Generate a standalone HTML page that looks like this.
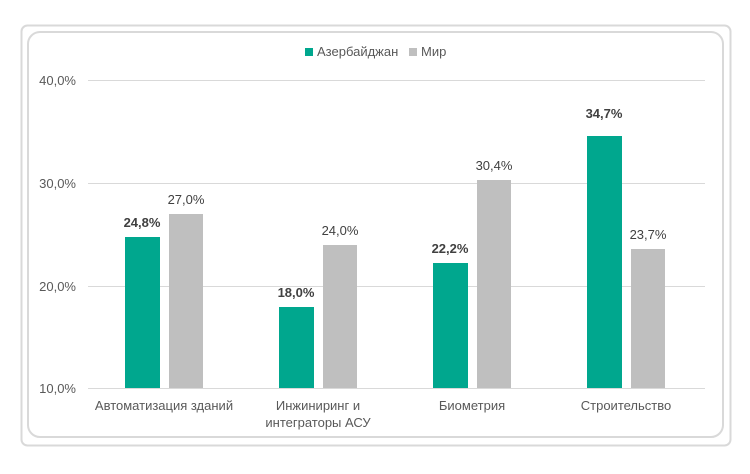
<!DOCTYPE html><html><head><meta charset="utf-8"><style>body{margin:0;background:#fff;width:750px;height:469px;overflow:hidden;font-family:"Liberation Sans",sans-serif}</style></head><body>
<svg width="750" height="469" xmlns="http://www.w3.org/2000/svg" font-family="Liberation Sans, sans-serif">
<rect x="21.5" y="25.5" width="709" height="420" rx="6" fill="#fff" stroke="#d9d9d9" stroke-width="2"/>
<rect x="28" y="32" width="695" height="405" rx="12" fill="#fff" stroke="#d9d9d9" stroke-width="2"/>
<g stroke="#d9d9d9" stroke-width="1">
<line x1="88" x2="705" y1="80.5" y2="80.5"/><line x1="88" x2="705" y1="183.5" y2="183.5"/><line x1="88" x2="705" y1="286.5" y2="286.5"/><line x1="88" x2="705" y1="388.5" y2="388.5"/></g>
<g font-size="13" fill="#595959" text-anchor="end"><text x="76" y="85">40,0%</text><text x="76" y="188">30,0%</text><text x="76" y="291">20,0%</text><text x="76" y="393">10,0%</text></g>
<rect x="305" y="48" width="8" height="8" fill="#00a78e"/><text x="317" y="56" font-size="13" fill="#595959">Азербайджан</text>
<rect x="409" y="48" width="8" height="8" fill="#bfbfbf"/><text x="421" y="56" font-size="13" fill="#595959">Мир</text>
<g fill="#00a78e"><rect x="125" y="237" width="35" height="151"/><rect x="279" y="307" width="35" height="81"/><rect x="433" y="263" width="35" height="125"/><rect x="587" y="136" width="35" height="252"/></g>
<g fill="#bfbfbf"><rect x="169" y="214" width="34" height="174"/><rect x="323" y="245" width="34" height="143"/><rect x="477" y="180" width="34" height="208"/><rect x="631" y="249" width="34" height="139"/></g>
<g font-size="13" font-weight="bold" fill="#404040" text-anchor="middle"><text x="142" y="227">24,8%</text><text x="296" y="297">18,0%</text><text x="450" y="253">22,2%</text><text x="604" y="118">34,7%</text></g>
<g font-size="13" fill="#404040" text-anchor="middle"><text x="186" y="204">27,0%</text><text x="340" y="235">24,0%</text><text x="494" y="170">30,4%</text><text x="648" y="239">23,7%</text></g>
<g font-size="13" fill="#595959" text-anchor="middle"><text x="164" y="410">Автоматизация зданий</text><text x="318" y="410">Инжиниринг и</text><text x="318" y="427">интеграторы АСУ</text><text x="472" y="410">Биометрия</text><text x="626" y="410">Строительство</text></g>
</svg></body></html>
